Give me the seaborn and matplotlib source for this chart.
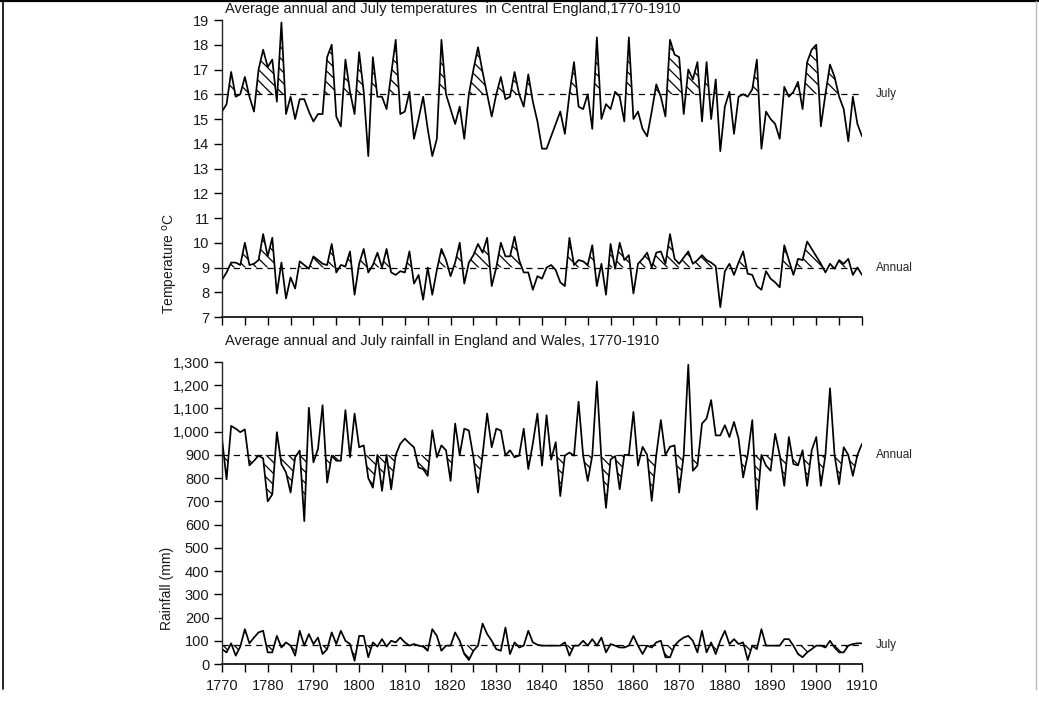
import numpy as np
import pandas as pd
import matplotlib
matplotlib.use("Agg")
import matplotlib.pyplot as plt
import seaborn as sns
from matplotlib.ticker import MultipleLocator, FuncFormatter
from matplotlib.lines import Line2D

years = list(range(1770, 1911))

july_temp = [
    15.3, 15.6, 16.9, 15.9, 16.0, 16.7, 15.9, 15.3, 17.0, 17.8,
    17.1, 17.4, 15.7, 18.9, 15.2, 15.9, 15.0, 15.8, 15.8, 15.3,
    14.9, 15.2, 15.2, 17.5, 18.0, 15.1, 14.7, 17.4, 16.1, 15.2,
    17.7, 16.1, 13.5, 17.5, 15.9, 15.9, 15.4, 16.8, 18.2, 15.2,
    15.3, 16.1, 14.2, 15.0, 15.9, 14.6, 13.5, 14.2, 18.2, 16.0,
    15.4, 14.8, 15.5, 14.2, 16.0, 17.0, 17.9, 16.9, 16.0, 15.1,
    16.0, 16.7, 15.8, 15.9, 16.9, 16.0, 15.5, 16.8, 15.7, 14.9,
    13.8, 13.8, 14.3, 14.8, 15.3, 14.4, 16.0, 17.3, 15.5, 15.4,
    16.0, 14.6, 18.3, 15.0, 15.6, 15.4, 16.1, 15.9, 14.9, 18.3,
    15.0, 15.3, 14.6, 14.3, 15.3, 16.4, 15.9, 15.1, 18.2, 17.6,
    17.5, 15.2, 17.0, 16.6, 17.3, 14.9, 17.3, 15.0, 16.6, 13.7,
    15.5, 16.1, 14.4, 15.9, 16.0, 15.9, 16.2, 17.4, 13.8, 15.3,
    15.0, 14.8, 14.2, 16.3, 15.9, 16.1, 16.5, 15.4, 17.3, 17.8,
    18.0, 14.7, 16.0, 17.2, 16.7, 15.9, 15.4, 14.1, 15.9, 14.8,
    14.3,
]

annual_temp = [
    8.5, 8.8, 9.2, 9.2, 9.1, 10.0, 9.1, 9.15, 9.3, 10.35,
    9.45, 10.2, 7.95, 9.2, 7.75, 8.6, 8.15, 9.25, 9.1, 8.95,
    9.45, 9.3, 9.15, 9.1, 9.95, 8.8, 9.1, 9.05, 9.65, 7.9,
    9.15, 9.75, 8.8, 9.1, 9.6, 9.0, 9.75, 8.8, 8.7, 8.85,
    8.8, 9.65, 8.35, 8.7, 7.7, 9.0, 7.9, 8.9, 9.75, 9.3,
    8.65, 9.2, 10.0, 8.35, 9.2, 9.5, 9.95, 9.6, 10.2, 8.25,
    9.0, 10.0, 9.45, 9.45, 10.25, 9.3, 8.8, 8.8, 8.1, 8.65,
    8.55, 9.0, 9.1, 8.9, 8.4, 8.25, 10.2, 9.1, 9.3, 9.25,
    9.1, 9.9, 8.25, 9.15, 7.9, 9.95, 8.95, 10.0, 9.3, 9.5,
    7.95, 9.15, 9.35, 9.6, 9.0, 9.6, 9.65, 9.15, 10.35, 9.35,
    9.15, 9.4, 9.65, 9.15, 9.3, 9.5, 9.3, 9.2, 9.05, 7.4,
    8.85, 9.15, 8.7, 9.2, 9.65, 8.75, 8.7, 8.25, 8.1, 8.85,
    8.55, 8.4, 8.2, 9.9, 9.3, 8.7, 9.35, 9.3, 10.05, 9.75,
    9.45, 9.15, 8.8, 9.15, 8.95, 9.3, 9.15, 9.35, 8.7, 9.0,
    8.7,
]

annual_rain = [
    970, 795, 1025, 1013, 998, 1010, 855, 875, 897, 885,
    700, 730, 998, 860, 825, 738, 890, 919, 615, 1103,
    868, 926, 1114, 781, 897, 875, 875, 1093, 890, 1078,
    933, 941, 800, 759, 900, 745, 900, 752, 900, 948,
    970, 950, 933, 846, 839, 810, 1006, 890, 941, 920,
    788, 1035, 900, 1013, 1005, 890, 738, 900, 1078, 933,
    1013, 1005, 897, 920, 890, 897, 1013, 839, 950, 1078,
    854, 1071, 880, 955, 723, 897, 910, 897, 1129, 897,
    788, 897, 1216, 880, 672, 880, 895, 752, 900, 900,
    1085, 854, 935, 900, 702, 900, 1050, 900, 935, 941,
    738, 900, 1288, 832, 854, 1035, 1057, 1136, 984, 984,
    1028, 977, 1042, 970, 803, 900, 1050, 665, 900, 854,
    832, 991, 900, 767, 977, 861, 855, 920, 767, 920,
    977, 767, 900, 1187, 900, 774, 933, 900, 810, 900,
    948,
]

july_rain = [
    64, 50, 89, 36, 75, 150, 89, 114, 136, 143,
    50, 50, 121, 71, 93, 79, 36, 143, 79, 129,
    86, 114, 43, 64, 136, 86, 143, 100, 86, 14,
    121, 121, 29, 93, 75, 107, 75, 100, 93, 114,
    93, 79, 86, 79, 75, 57, 150, 121, 57, 79,
    79, 136, 100, 43, 17, 57, 79, 174, 129, 100,
    64, 57, 157, 43, 93, 71, 79, 143, 93, 83,
    79, 79, 79, 79, 79, 93, 36, 79, 79, 100,
    79, 107, 79, 114, 50, 86, 79, 71, 71, 79,
    121, 79, 43, 79, 71, 93, 100, 29, 29, 79,
    100, 114, 121, 100, 50, 143, 50, 93, 43, 100,
    143, 86, 107, 86, 93, 17, 79, 64, 150, 79,
    79, 79, 79, 107, 107, 79, 43, 29, 50, 64,
    79, 79, 71, 100, 71, 50, 50, 79, 86, 89,
    89,
]

july_temp_mean = 16.0
annual_temp_mean = 9.0
annual_rain_mean = 900
july_rain_mean = 82

df = pd.DataFrame({
    "year": years,
    "july_temp": july_temp,
    "annual_temp": annual_temp,
    "annual_rain": annual_rain,
    "july_rain": july_rain,
})

sns.set_theme(style="ticks")
plt.rcParams["font.family"] = ["Liberation Sans", "DejaVu Sans"]
plt.rcParams["hatch.linewidth"] = 0.9
plt.rcParams["hatch.color"] = "black"

W, H = 1039, 703
fig = plt.figure(figsize=(W / 100, H / 100), dpi=100)
fig.patch.set_facecolor("white")


def box(left, top, right, bottom):
    return [left / W, 1 - bottom / H, (right - left) / W, (bottom - top) / H]


ax1 = fig.add_axes(box(222, 20, 862, 317))
ax2 = fig.add_axes(box(222, 362, 862, 664))

HATCH = "\\\\\\"


def draw(ax, col, mean, above):
    y = df[col].to_numpy(dtype=float)
    x = df["year"].to_numpy()
    where = y > mean if above else y < mean
    ax.fill_between(x, y, mean, where=where, interpolate=True,
                    facecolor="none", edgecolor="black", hatch=HATCH, linewidth=0)
    ax.plot([1770, 1910], [mean, mean], color="black", lw=0.9, ls=(0, (5, 4)))
    sns.lineplot(data=df, x="year", y=col, ax=ax, color="black", lw=1.25)


draw(ax1, "july_temp", july_temp_mean, True)
draw(ax1, "annual_temp", annual_temp_mean, True)
draw(ax2, "annual_rain", annual_rain_mean, False)
draw(ax2, "july_rain", july_rain_mean, False)

tick_kw = dict(labelsize=10.5, length=6, width=1.0, color="black", labelcolor="#1a1a1a")

for ax in (ax1, ax2):
    sns.despine(ax=ax, top=True, right=True)
    ax.spines["left"].set_linewidth(1.0)
    ax.spines["bottom"].set_linewidth(1.4)
    ax.set_xlim(1770, 1910)
    ax.spines["bottom"].set_bounds(1770, 1910)
    ax.xaxis.set_major_locator(MultipleLocator(10))
    ax.xaxis.set_minor_locator(MultipleLocator(5))
    ax.tick_params(axis="both", which="both", direction="out", pad=3, **tick_kw)
    ax.tick_params(axis="x", which="minor", length=6, width=1.0)
    ax.set_xlabel("")
    ax.set_ylabel("")
    ax.patch.set_alpha(0)

ax1.set_ylim(7, 19)
ax1.yaxis.set_major_locator(MultipleLocator(1))
ax1.tick_params(axis="x", which="both", labelbottom=False)

ax2.set_ylim(0, 1300)
ax2.yaxis.set_major_locator(MultipleLocator(100))
ax2.yaxis.set_major_formatter(FuncFormatter(lambda v, p: f"{int(v):,}"))
ax2.tick_params(axis="x", which="major", pad=5)

ax1.text(0.005, 1.012, "Average annual and July temperatures  in Central England,1770-1910",
         transform=ax1.transAxes, ha="left", va="bottom", fontsize=10.5, color="#1a1a1a")
ax2.text(0.005, 1.045, "Average annual and July rainfall in England and Wales, 1770-1910",
         transform=ax2.transAxes, ha="left", va="bottom", fontsize=10.5, color="#1a1a1a")

ax1.text(1913, july_temp_mean, "July", ha="left", va="center", fontsize=8.5)
ax1.text(1913, annual_temp_mean, "Annual", ha="left", va="center", fontsize=8.5)
ax2.text(1913, annual_rain_mean, "Annual", ha="left", va="center", fontsize=8.5)
ax2.text(1913, july_rain_mean, "July", ha="left", va="center", fontsize=8.5)

ax1.set_ylabel("Temperature $^{\\rm o}$C", fontsize=10, color="#1a1a1a")
ax1.yaxis.set_label_coords(-0.065, 0.18)
ax2.set_ylabel("Rainfall (mm)", fontsize=10, color="#1a1a1a")
ax2.yaxis.set_label_coords(-0.075, 0.25)

# outer frame of the scanned page
fig.add_artist(Line2D([0, 1], [0.9985, 0.9985], transform=fig.transFigure, color="black", lw=1.6))
fig.add_artist(Line2D([0.003, 0.003], [0.02, 0.999], transform=fig.transFigure, color="black", lw=1.2))
fig.add_artist(Line2D([0.997, 0.997], [0.02, 0.999], transform=fig.transFigure, color="#bbbbbb", lw=1.0))

fig.savefig("out.png", dpi=100, facecolor="white")
